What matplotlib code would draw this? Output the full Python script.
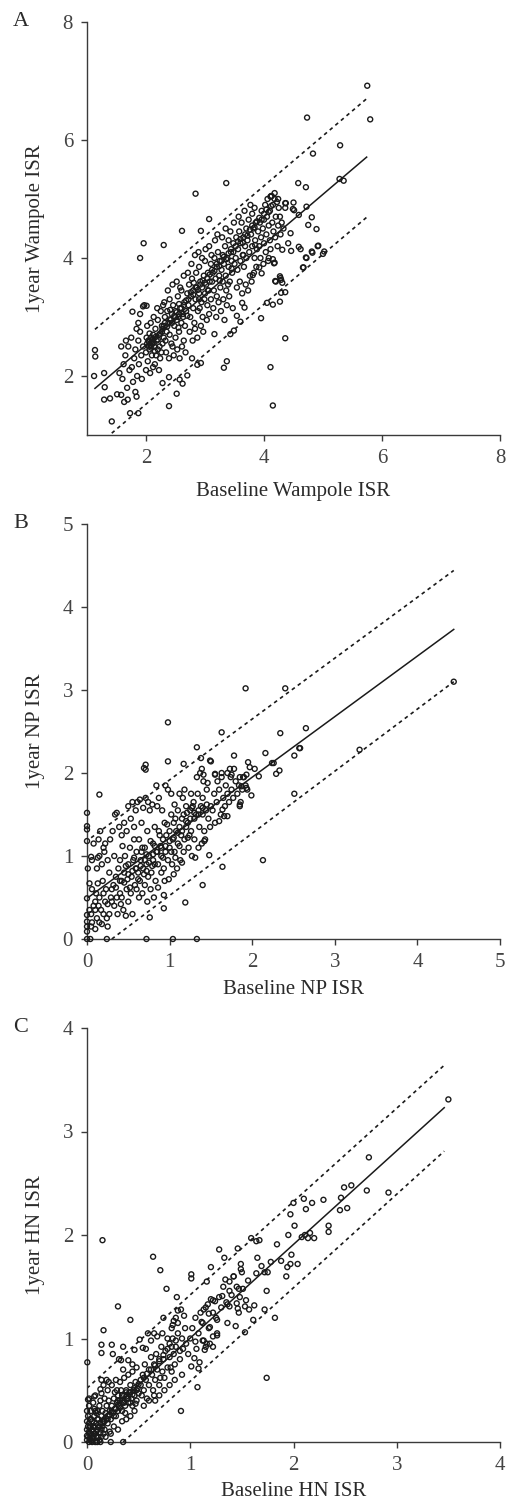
import numpy as np
import matplotlib
matplotlib.use("Agg")
import matplotlib.pyplot as plt

plt.rcParams['font.family'] = ['Liberation Serif', 'DejaVu Serif']

# ---- panel A: Wampole ISR (baseline, 1 year) ----
a_outliers = [(5.75, 6.92), (4.73, 6.38), (5.80, 6.35), (5.29, 5.91), (4.83, 5.77), (3.36, 5.27),
              (5.28, 5.34), (5.35, 5.31), (4.58, 5.27), (4.71, 5.20), (2.84, 5.09), (4.18, 5.10),
              (4.13, 5.05), (4.36, 4.93), (4.50, 4.94), (4.36, 4.85), (4.49, 4.83), (4.72, 4.87),
              (4.59, 4.73), (4.81, 4.69), (4.75, 4.56), (4.89, 4.49), (3.07, 4.66), (2.61, 4.46),
              (1.96, 4.25), (2.30, 4.22), (2.93, 4.46), (4.91, 4.20), (4.59, 4.19), (1.90, 4.00),
              (1.135, 2.44), (1.14, 2.33), (1.12, 2.00), (1.29, 2.05), (1.30, 1.81), (1.29, 1.60),
              (1.39, 1.62), (1.42, 1.23), (1.73, 1.37), (1.87, 1.37), (1.51, 1.69), (1.58, 1.68),
              (1.63, 1.56), (1.69, 1.60), (1.84, 1.65), (1.82, 1.73), (2.39, 1.49), (2.52, 1.70),
              (2.62, 1.87), (2.57, 1.94), (2.28, 1.88), (2.39, 1.98), (2.70, 2.01), (3.32, 2.14),
              (3.37, 2.25), (2.78, 2.30), (2.87, 2.19), (2.93, 2.22), (4.11, 2.15), (4.15, 1.50),
              (4.36, 2.64), (3.95, 2.98), (4.05, 3.24), (4.15, 3.21), (4.27, 3.26), (4.29, 3.41),
              (4.36, 3.42), (4.19, 3.61), (4.28, 3.66), (4.31, 3.58), (4.67, 3.84), (4.72, 4.00),
              (4.82, 4.09), (5.00, 4.07), (4.17, 3.91), (4.08, 4.00), (3.67, 3.16), (3.63, 3.24),
              (3.54, 3.02), (3.60, 2.92), (3.49, 2.77), (3.43, 2.71), (3.16, 2.71), (1.87, 2.90),
              (1.77, 3.09), (1.95, 3.18), (2.01, 3.19), (4.11, 5.04), (4.24, 5.00), (4.37, 4.93),
              (4.51, 4.81), (4.45, 4.42), (4.41, 4.25), (4.31, 4.14), (4.46, 4.12), (4.62, 4.15),
              (4.81, 4.11), (4.92, 4.21), (5.02, 4.11), (4.71, 4.01), (4.66, 3.84), (4.15, 3.98),
              (4.18, 3.92), (4.27, 3.69), (4.29, 3.63), (4.20, 3.60), (3.92, 3.84), (3.96, 3.74),
              (3.81, 3.71)]
a_low = [(1.55, 2.05), (1.60, 1.95), (1.62, 2.20), (1.65, 2.35), (1.68, 1.80), (1.70, 2.50),
         (1.72, 2.10), (1.75, 2.65), (1.78, 1.90), (1.80, 2.30), (1.82, 2.45), (1.85, 2.00),
         (1.87, 2.60), (1.88, 2.20), (1.90, 2.75), (1.92, 2.35), (1.93, 1.95), (1.95, 2.50),
         (1.58, 2.50), (1.66, 2.60), (1.76, 2.15), (1.84, 2.80), (1.90, 3.05), (1.97, 3.20),
         (2.00, 2.40), (2.02, 2.55), (2.04, 2.60), (2.05, 2.50), (2.06, 2.45), (2.08, 2.65),
         (2.10, 2.55), (2.10, 2.35), (2.12, 2.70), (2.14, 2.50), (2.15, 2.20), (2.16, 2.80),
         (2.18, 2.60), (2.20, 2.45), (2.20, 2.95), (2.22, 2.70), (2.24, 2.30), (2.25, 3.10),
         (2.27, 2.85), (2.28, 2.55), (2.30, 2.65), (2.00, 2.10), (2.03, 2.25), (2.07, 2.05),
         (2.12, 2.15), (2.17, 2.35), (2.22, 2.10), (2.26, 2.40), (2.29, 3.20), (2.02, 2.85),
         (2.08, 2.90), (2.13, 3.00), (2.19, 3.15), (2.23, 2.50), (2.06, 2.72), (2.11, 2.62),
         (2.15, 2.42), (2.01, 2.65), (2.09, 2.48), (2.27, 2.75)]
a_mid = [(2.30, 2.85), (2.32, 3.00), (2.33, 2.60), (2.35, 2.75), (2.36, 3.10), (2.38, 2.90),
         (2.40, 2.70), (2.40, 3.30), (2.42, 2.95), (2.44, 3.05), (2.45, 2.50), (2.46, 3.20),
         (2.48, 2.85), (2.50, 3.10), (2.50, 2.65), (2.52, 2.95), (2.54, 3.35), (2.55, 3.00),
         (2.56, 2.75), (2.58, 3.15), (2.60, 2.90), (2.60, 3.45), (2.62, 3.05), (2.64, 2.60),
         (2.65, 3.25), (2.66, 2.85), (2.68, 3.10), (2.70, 3.40), (2.34, 2.40), (2.39, 2.30),
         (2.43, 2.55), (2.47, 2.35), (2.53, 2.45), (2.57, 2.30), (2.61, 2.50), (2.67, 2.40),
         (2.37, 3.45), (2.45, 3.55), (2.52, 3.60), (2.58, 3.50), (2.64, 3.70), (2.31, 3.25),
         (2.49, 3.00), (2.41, 3.12), (2.56, 3.22), (2.63, 3.00),
         (2.72, 3.20), (2.73, 3.55), (2.75, 3.00), (2.76, 3.35), (2.78, 3.65), (2.80, 3.15),
         (2.80, 3.45), (2.82, 2.90), (2.84, 3.30), (2.85, 3.75), (2.86, 3.50), (2.88, 3.10),
         (2.90, 3.40), (2.90, 3.85), (2.92, 3.60), (2.94, 3.25), (2.95, 3.50), (2.96, 3.00),
         (2.98, 3.70), (3.00, 3.40), (3.00, 3.95), (3.02, 3.55), (3.04, 3.20), (3.05, 3.75),
         (3.06, 3.45), (3.08, 3.60), (3.10, 3.30), (3.10, 3.90), (2.74, 2.75), (2.79, 2.60),
         (2.83, 2.80), (2.87, 2.65), (2.93, 2.85), (2.97, 2.75), (3.03, 2.95), (3.07, 3.05),
         (2.77, 3.90), (2.83, 4.05), (2.89, 4.10), (2.95, 4.00), (3.01, 4.15), (3.07, 4.20),
         (2.71, 3.75), (2.91, 3.15), (2.99, 3.30), (2.81, 3.58)]
a_high = [(3.12, 3.60), (3.13, 3.75), (3.15, 3.45), (3.16, 4.00), (3.18, 3.65), (3.20, 3.85),
          (3.20, 3.35), (3.22, 4.10), (3.24, 3.70), (3.25, 3.95), (3.26, 3.50), (3.28, 3.80),
          (3.30, 4.05), (3.30, 3.60), (3.32, 3.90), (3.34, 4.20), (3.35, 3.70), (3.36, 3.45),
          (3.38, 4.00), (3.40, 3.85), (3.40, 4.30), (3.42, 3.60), (3.44, 4.10), (3.45, 3.95),
          (3.46, 3.75), (3.48, 4.25), (3.50, 3.90), (3.14, 3.15), (3.19, 3.00), (3.23, 3.25),
          (3.27, 3.10), (3.31, 3.30), (3.33, 2.95), (3.37, 3.20), (3.41, 3.35), (3.47, 3.15),
          (3.17, 4.30), (3.21, 4.40), (3.29, 4.35), (3.35, 4.50), (3.43, 4.45), (3.49, 4.60),
          (3.11, 4.05), (3.39, 3.55),
          (3.52, 4.00), (3.53, 4.35), (3.55, 3.80), (3.56, 4.15), (3.58, 4.45), (3.60, 3.95),
          (3.60, 4.25), (3.62, 4.60), (3.64, 4.05), (3.65, 4.35), (3.66, 3.85), (3.68, 4.20),
          (3.70, 4.50), (3.70, 4.00), (3.72, 4.30), (3.74, 4.65), (3.75, 4.10), (3.76, 3.70),
          (3.78, 4.40), (3.80, 4.20), (3.80, 4.75), (3.82, 4.50), (3.84, 4.00), (3.85, 4.30),
          (3.86, 4.60), (3.88, 4.15), (3.90, 4.45), (3.54, 3.50), (3.59, 3.60), (3.63, 3.40),
          (3.69, 3.55), (3.73, 3.45), (3.79, 3.60), (3.83, 3.75), (3.87, 3.85), (3.57, 4.70),
          (3.67, 4.80), (3.77, 4.90), (3.84, 4.85),
          (3.92, 4.20), (3.93, 4.60), (3.95, 4.35), (3.96, 4.80), (3.98, 4.50), (4.00, 4.65),
          (4.00, 4.25), (4.02, 4.90), (4.04, 4.40), (4.05, 4.70), (4.06, 5.00), (4.08, 4.55),
          (4.10, 4.80), (4.10, 4.30), (4.12, 5.05), (4.14, 4.60), (4.15, 4.90), (4.16, 4.45),
          (4.18, 5.00), (4.20, 4.70), (4.22, 4.95), (4.24, 4.55), (4.25, 4.85), (4.27, 4.70),
          (4.30, 4.60), (3.94, 4.00), (3.99, 3.90), (4.03, 4.10), (4.07, 3.95), (4.11, 4.15),
          (4.19, 4.35), (4.23, 4.20), (4.28, 4.40), (4.33, 4.50)]
a_core = [(2.05, 2.58), (2.08, 2.52), (2.10, 2.60), (2.13, 2.56), (2.16, 2.66), (2.20, 2.62),
          (2.24, 2.72), (2.28, 2.80), (2.32, 2.90), (2.36, 2.84), (2.40, 2.96), (2.44, 2.90),
          (2.48, 3.02), (2.52, 3.08), (2.56, 3.05), (2.60, 3.15), (2.64, 3.20), (2.68, 3.28),
          (2.72, 3.30), (2.76, 3.42), (2.80, 3.38), (2.84, 3.50), (2.88, 3.46), (2.92, 3.55),
          (2.96, 3.62), (3.00, 3.58), (3.04, 3.66), (3.08, 3.72), (3.12, 3.80), (3.16, 3.78),
          (3.20, 3.90), (3.24, 3.86), (3.28, 3.95), (3.32, 4.02), (3.36, 3.98), (3.40, 4.08),
          (3.44, 4.15), (3.48, 4.10), (3.52, 4.20), (3.56, 4.28), (3.60, 4.32), (3.64, 4.26),
          (3.68, 4.40), (3.72, 4.38), (3.76, 4.48), (3.80, 4.55), (3.84, 4.52), (3.88, 4.62),
          (3.92, 4.68), (3.96, 4.65), (4.00, 4.75), (4.04, 4.82), (4.08, 4.78), (4.12, 4.88),
          (2.90, 3.30), (3.05, 3.45), (3.25, 3.62), (3.45, 3.82), (3.65, 4.05), (3.85, 4.22),
          (2.70, 3.02), (2.55, 2.82)]
a_fit_x = [1.135, 5.74]
a_fit_y = [1.79, 5.71]
a_upper_y = [2.79, 6.70]
a_lower_y = [0.79, 4.69]

# ---- panel B: NP ISR ----
b_outliers = [(0.98, 2.61), (1.92, 3.02), (2.40, 3.02), (1.63, 2.49), (2.34, 2.48), (2.65, 2.54),
              (4.44, 3.10), (2.57, 2.30), (2.51, 2.21), (2.16, 2.24), (1.78, 2.21), (3.30, 2.28),
              (2.24, 2.12), (2.33, 2.03), (2.29, 1.99), (2.08, 1.96), (1.95, 2.13), (1.97, 2.07),
              (2.03, 2.05), (2.51, 1.75), (2.13, 0.95), (1.73, 2.05), (1.75, 1.98), (1.63, 2.00),
              (1.85, 1.95), (1.89, 1.95), (1.93, 1.98), (1.87, 1.84), (1.93, 1.82), (1.99, 1.73),
              (1.85, 1.62), (1.49, 2.15), (1.39, 2.05), (1.41, 1.98), (1.55, 1.99), (1.70, 1.48),
              (1.48, 1.01), (1.64, 0.87), (1.42, 1.18), (1.33, 2.31), (2.58, 2.30), (1.38, 2.18),
              (1.50, 2.14), (0.98, 2.14), (0.71, 2.10), (0.71, 2.04), (0.69, 2.06), (1.17, 2.11),
              (2.26, 2.12), (1.40, 0.65), (1.19, 0.44), (0.93, 0.53), (0.76, 0.26), (0.93, 0.37),
              (0.15, 1.74), (0.01, 0.85), (0.03, 0.67), (0.13, 0.67), (0.72, 0.0), (1.04, 0.0),
              (1.33, 0.0), (0.24, 0.0), (0.0, 0.0), (0.04, 0.0), (0.0, 1.52), (0.0, 1.36),
              (0.0, 1.32), (0.0, 1.18), (0.0, 0.49), (0.0, 0.29), (0.0, 0.21), (0.0, 0.15),
              (0.0, 0.09), (0.05, 0.99), (0.06, 0.95)]
b_low = [(0.05, 0.30), (0.08, 0.40), (0.10, 0.35), (0.12, 0.25), (0.14, 0.40), (0.15, 0.20),
         (0.17, 0.35), (0.20, 0.30), (0.22, 0.45), (0.25, 0.15), (0.27, 0.30), (0.05, 0.15),
         (0.10, 0.12), (0.18, 0.18), (0.24, 0.25), (0.06, 0.60), (0.12, 0.85), (0.15, 1.00),
         (0.18, 0.90), (0.20, 1.10), (0.22, 1.15), (0.25, 0.95), (0.28, 1.20), (0.08, 1.15),
         (0.14, 1.20), (0.27, 0.80), (0.11, 0.55), (0.19, 0.70), (0.23, 0.60), (0.29, 0.50),
         (0.16, 1.30), (0.21, 1.05), (0.13, 0.98),
         (0.30, 0.45), (0.32, 0.65), (0.33, 0.40), (0.35, 0.75), (0.36, 0.50), (0.38, 0.85),
         (0.40, 0.55), (0.40, 0.95), (0.42, 0.70), (0.44, 0.35), (0.45, 0.80), (0.46, 1.00),
         (0.48, 0.60), (0.50, 0.90), (0.50, 0.45), (0.52, 1.10), (0.54, 0.75), (0.55, 0.30),
         (0.56, 0.95), (0.58, 0.65), (0.60, 1.05), (0.31, 1.30), (0.34, 1.50), (0.36, 1.52),
         (0.39, 1.35), (0.42, 1.25), (0.45, 1.40), (0.48, 1.30), (0.50, 1.60), (0.53, 1.45),
         (0.55, 1.65), (0.57, 1.35), (0.59, 1.55), (0.37, 0.30), (0.41, 0.42), (0.47, 0.28),
         (0.53, 0.55), (0.59, 0.85), (0.33, 1.00), (0.43, 1.12), (0.57, 1.20), (0.49, 0.72)]
b_mid = [(0.60, 0.60), (0.62, 0.80), (0.63, 1.20), (0.64, 0.70), (0.65, 0.95), (0.66, 1.40),
         (0.68, 0.85), (0.70, 1.10), (0.70, 0.65), (0.72, 0.90), (0.73, 1.30), (0.74, 0.75),
         (0.75, 1.00), (0.76, 1.55), (0.78, 0.80), (0.80, 1.15), (0.80, 0.95), (0.82, 1.35),
         (0.83, 0.70), (0.84, 1.05), (0.85, 1.60), (0.86, 0.90), (0.88, 1.25), (0.90, 1.00),
         (0.90, 0.80), (0.61, 1.65), (0.64, 1.68), (0.68, 1.58), (0.71, 1.70), (0.74, 1.65),
         (0.79, 1.62), (0.84, 1.85), (0.87, 1.70), (0.63, 0.50), (0.67, 0.55), (0.73, 0.45),
         (0.77, 0.60), (0.81, 0.50), (0.86, 0.62), (0.69, 0.78), (0.79, 0.88), (0.89, 1.12),
         (0.72, 1.02), (0.82, 1.12), (0.66, 1.05),
         (0.92, 1.20), (0.93, 0.85), (0.94, 1.40), (0.95, 1.05), (0.96, 1.25), (0.98, 0.95),
         (1.00, 1.30), (1.00, 1.10), (1.02, 1.50), (1.03, 0.90), (1.04, 1.20), (1.05, 1.40),
         (1.06, 1.05), (1.08, 1.30), (1.10, 1.55), (1.10, 1.15), (1.12, 1.35), (1.13, 0.95),
         (1.14, 1.25), (1.15, 1.45), (1.16, 1.70), (1.18, 1.20), (1.20, 1.35), (1.20, 1.60),
         (0.95, 1.85), (0.98, 1.80), (1.02, 1.75), (1.06, 1.62), (1.12, 1.75), (1.18, 1.80),
         (0.94, 0.70), (0.99, 0.72), (1.05, 0.78), (1.09, 0.85), (1.15, 0.92), (0.91, 1.55),
         (1.07, 0.98), (1.17, 1.05)]
b_high = [(1.22, 1.40), (1.24, 1.25), (1.25, 1.55), (1.26, 1.30), (1.28, 1.60), (1.30, 1.45),
          (1.30, 1.20), (1.32, 1.50), (1.34, 1.75), (1.35, 1.55), (1.36, 1.35), (1.38, 1.60),
          (1.40, 1.50), (1.40, 1.70), (1.42, 1.30), (1.44, 1.55), (1.45, 1.80), (1.47, 1.45),
          (1.50, 1.60), (1.23, 1.10), (1.27, 1.00), (1.31, 0.98), (1.35, 1.10), (1.39, 1.15),
          (1.43, 1.20), (1.49, 1.35), (1.26, 1.75), (1.33, 1.95), (1.37, 2.00), (1.41, 1.90),
          (1.46, 1.88), (1.29, 1.65), (1.21, 1.52),
          (1.52, 1.55), (1.54, 1.75), (1.55, 1.40), (1.57, 1.65), (1.60, 1.80), (1.62, 1.50),
          (1.63, 1.95), (1.65, 1.70), (1.67, 1.60), (1.68, 1.85), (1.70, 1.75), (1.72, 1.65),
          (1.74, 1.95), (1.75, 1.80), (1.77, 1.70), (1.80, 1.90), (1.82, 1.75), (1.84, 1.85),
          (1.86, 1.65), (1.88, 1.80), (1.90, 1.95), (1.92, 1.85), (1.94, 1.80), (1.55, 1.98),
          (1.60, 1.42), (1.66, 1.48), (1.70, 2.00), (1.78, 2.05), (1.85, 1.60), (1.58, 1.90),
          (1.64, 1.56)]
b_core = [(0.30, 0.60), (0.35, 0.62), (0.40, 0.70), (0.45, 0.68), (0.50, 0.78), (0.55, 0.82),
          (0.60, 0.85), (0.65, 0.88), (0.70, 0.95), (0.75, 0.92), (0.80, 1.02), (0.85, 1.05),
          (0.90, 1.10), (0.95, 1.12), (1.00, 1.18), (1.05, 1.22), (1.10, 1.28), (1.15, 1.30),
          (1.20, 1.42), (1.25, 1.45), (1.30, 1.52), (1.35, 1.50), (1.40, 1.58), (1.45, 1.62),
          (0.42, 0.50), (0.52, 0.62), (0.62, 0.72), (0.72, 0.82), (0.82, 0.90), (0.92, 0.98),
          (1.02, 1.05), (1.12, 1.12), (1.22, 1.22), (0.47, 0.88), (0.57, 0.98), (0.67, 1.10),
          (0.77, 1.18), (0.87, 1.30), (0.97, 1.38), (1.07, 1.45), (1.17, 1.50), (1.27, 1.58),
          (0.10, 0.45), (0.15, 0.50), (0.20, 0.55), (0.25, 0.42), (0.06, 0.20), (0.03, 0.35)]
b_fit_x = [0.0, 4.44]
b_fit_y = [0.49, 3.73]
b_upper_x = [0.05, 4.44]
b_upper_y = [1.22, 4.44]
b_lower_x = [0.30, 4.44]
b_lower_y = [0.0, 3.10]

# ---- panel C: HN ISR ----
c_outliers = [(3.50, 3.31), (2.73, 2.75), (2.49, 2.46), (2.56, 2.48), (2.71, 2.43), (2.92, 2.41),
              (2.46, 2.36), (2.45, 2.24), (2.52, 2.26), (2.29, 2.34), (2.10, 2.35), (2.18, 2.31),
              (2.00, 2.31), (1.97, 2.20), (2.12, 2.25), (2.01, 2.09), (2.34, 2.09), (2.34, 2.03),
              (1.95, 2.00), (2.08, 1.98), (2.11, 2.00), (2.16, 2.02), (2.20, 1.97), (2.14, 1.97),
              (1.59, 1.97), (1.64, 1.94), (1.67, 1.95), (1.84, 1.91), (0.15, 1.95), (1.46, 1.87),
              (1.98, 1.81), (2.04, 1.72), (1.97, 1.72), (1.94, 1.69), (1.93, 1.60), (1.88, 1.75),
              (1.78, 1.74), (1.74, 1.46), (1.65, 1.78), (1.69, 1.70), (1.72, 1.64), (1.75, 1.64),
              (1.64, 1.63), (1.49, 1.72), (1.49, 1.67), (1.50, 1.64), (1.42, 1.60), (1.56, 1.56),
              (1.33, 1.78), (1.28, 1.86), (1.20, 1.69), (1.34, 1.57), (1.38, 1.46), (1.47, 1.48),
              (1.51, 1.48), (1.16, 1.55), (1.31, 1.41), (1.22, 1.37), (1.24, 1.36), (1.17, 1.33),
              (1.13, 1.28), (1.18, 1.24), (1.36, 1.33), (1.38, 1.31), (1.45, 1.34), (1.54, 1.37),
              (1.53, 1.31), (1.46, 1.29), (1.47, 1.25), (1.57, 1.28), (1.62, 1.32), (1.72, 1.28),
              (1.61, 1.18), (1.82, 1.20), (1.53, 1.06), (1.44, 1.12), (1.26, 1.18), (1.11, 1.16),
              (1.19, 1.11), (1.22, 1.02), (1.19, 0.95), (1.22, 0.92), (1.13, 0.98), (1.26, 1.03),
              (0.64, 1.79), (0.71, 1.66), (0.77, 1.48), (0.30, 1.31), (0.42, 1.18), (0.16, 1.08),
              (0.003, 0.77), (0.14, 0.94), (0.14, 0.86), (0.24, 0.94), (0.25, 0.85), (0.35, 0.92),
              (0.31, 0.80), (0.91, 0.30), (1.07, 0.53), (1.74, 0.62), (1.01, 1.62), (1.01, 1.58),
              (0.87, 1.40), (0.91, 1.28), (0.88, 1.27), (0.74, 1.20), (0.86, 1.20), (0.84, 1.17),
              (0.83, 1.13), (0.59, 1.05), (0.65, 1.05), (0.51, 0.99), (0.54, 0.91), (0.46, 0.89),
              (0.40, 0.79), (0.44, 0.75), (0.33, 0.79), (0.35, 0.70), (0.14, 0.60), (0.21, 0.58),
              (0.13, 0.51), (0.14, 0.47), (0.07, 0.44), (0.01, 0.41), (0.29, 0.50), (1.08, 0.71),
              (1.09, 0.77), (1.04, 0.81), (1.01, 0.73), (1.14, 0.89), (1.15, 0.92), (1.12, 0.98),
              (1.05, 0.97), (0.13, 0.0), (0.23, 0.0), (0.35, 0.0)]
c_low = [(0.00, 0.02), (0.01, 0.05), (0.02, 0.00), (0.02, 0.10), (0.03, 0.03), (0.03, 0.15),
         (0.04, 0.07), (0.05, 0.00), (0.05, 0.20), (0.06, 0.10), (0.06, 0.04), (0.07, 0.15),
         (0.07, 0.25), (0.08, 0.08), (0.08, 0.00), (0.09, 0.18), (0.10, 0.12), (0.10, 0.30),
         (0.11, 0.05), (0.11, 0.22), (0.12, 0.15), (0.12, 0.35), (0.13, 0.09), (0.14, 0.25),
         (0.15, 0.18), (0.00, 0.12), (0.00, 0.20), (0.00, 0.30), (0.01, 0.25), (0.02, 0.35),
         (0.04, 0.30), (0.06, 0.38), (0.09, 0.28), (0.13, 0.40), (0.00, 0.06), (0.01, 0.15),
         (0.03, 0.22), (0.05, 0.12), (0.04, 0.01), (0.10, 0.00), (0.07, 0.32), (0.15, 0.30),
         (0.14, 0.05), (0.02, 0.42), (0.08, 0.45),
         (0.16, 0.20), (0.17, 0.12), (0.18, 0.28), (0.19, 0.35), (0.20, 0.18), (0.20, 0.25),
         (0.21, 0.40), (0.22, 0.30), (0.23, 0.22), (0.24, 0.35), (0.25, 0.28), (0.26, 0.42),
         (0.27, 0.32), (0.28, 0.25), (0.29, 0.38), (0.30, 0.45), (0.30, 0.30), (0.31, 0.35),
         (0.32, 0.40), (0.33, 0.50), (0.34, 0.30), (0.35, 0.38), (0.36, 0.45), (0.37, 0.35),
         (0.38, 0.50), (0.39, 0.42), (0.40, 0.38), (0.41, 0.48), (0.42, 0.55), (0.43, 0.42),
         (0.44, 0.35), (0.45, 0.50), (0.46, 0.45), (0.47, 0.58), (0.48, 0.40), (0.49, 0.52),
         (0.50, 0.47), (0.18, 0.05), (0.22, 0.10), (0.26, 0.15), (0.30, 0.12), (0.34, 0.20),
         (0.38, 0.22), (0.42, 0.25), (0.46, 0.30), (0.20, 0.50), (0.24, 0.55), (0.28, 0.60),
         (0.32, 0.58), (0.36, 0.62), (0.40, 0.65), (0.44, 0.68), (0.48, 0.72), (0.17, 0.42),
         (0.27, 0.48), (0.37, 0.28), (0.47, 0.37), (0.23, 0.08), (0.16, 0.55), (0.19, 0.60)]
c_mid = [(0.52, 0.55), (0.53, 0.45), (0.54, 0.65), (0.55, 0.50), (0.56, 0.75), (0.57, 0.60),
         (0.58, 0.42), (0.60, 0.70), (0.60, 0.55), (0.62, 0.82), (0.63, 0.65), (0.64, 0.50),
         (0.65, 0.75), (0.66, 0.60), (0.67, 0.85), (0.68, 0.70), (0.70, 0.78), (0.70, 0.55),
         (0.72, 0.92), (0.73, 0.68), (0.74, 0.80), (0.75, 0.62), (0.76, 0.88), (0.78, 0.72),
         (0.80, 0.95), (0.80, 0.82), (0.82, 0.68), (0.83, 1.00), (0.84, 0.85), (0.85, 0.75),
         (0.86, 0.92), (0.88, 1.05), (0.90, 0.88), (0.90, 0.80), (0.92, 1.00), (0.93, 0.90),
         (0.95, 1.10), (0.96, 0.95), (0.98, 0.85), (1.00, 1.00), (0.55, 0.35), (0.60, 0.40),
         (0.65, 0.45), (0.70, 0.45), (0.75, 0.50), (0.80, 0.55), (0.85, 0.60), (0.57, 0.90),
         (0.62, 0.98), (0.68, 1.02), (0.73, 1.05), (0.78, 1.00), (0.82, 1.10), (0.88, 1.15),
         (0.94, 1.22), (0.66, 0.40), (0.92, 0.65), (0.71, 0.62), (0.81, 0.72),
         (1.02, 1.10), (1.05, 1.20), (1.08, 1.05), (1.10, 1.25), (1.12, 1.15), (1.15, 1.30),
         (1.18, 1.10), (1.20, 1.38), (1.22, 1.25), (1.25, 1.20), (1.28, 1.40), (1.30, 1.30),
         (1.32, 1.50), (1.35, 1.35), (1.38, 1.55), (1.40, 1.42), (1.42, 1.60), (1.45, 1.50),
         (1.48, 1.40), (1.06, 0.90), (1.16, 0.95), (1.26, 1.05), (1.36, 1.15)]
c_core = [(0.20, 0.22), (0.22, 0.26), (0.24, 0.30), (0.26, 0.25), (0.28, 0.32), (0.30, 0.36),
          (0.32, 0.33), (0.34, 0.40), (0.36, 0.38), (0.38, 0.44), (0.40, 0.42), (0.42, 0.48),
          (0.44, 0.46), (0.46, 0.52), (0.48, 0.50), (0.50, 0.56), (0.52, 0.60), (0.55, 0.62),
          (0.58, 0.66), (0.62, 0.70), (0.66, 0.74), (0.70, 0.80), (0.74, 0.84), (0.78, 0.90),
          (0.82, 0.92), (0.86, 0.98), (0.30, 0.40), (0.34, 0.45), (0.38, 0.48), (0.42, 0.38),
          (0.05, 0.05), (0.07, 0.08), (0.09, 0.10), (0.11, 0.14), (0.13, 0.18), (0.15, 0.15),
          (0.17, 0.20), (0.19, 0.22), (0.03, 0.08), (0.06, 0.15), (0.09, 0.05), (0.12, 0.02),
          (0.16, 0.08), (0.02, 0.18), (0.04, 0.22), (0.08, 0.30), (0.10, 0.22), (0.14, 0.12)]
c_fit_x = [0.0, 3.46]
c_fit_y = [0.10, 3.23]
c_upper_x = [0.0, 3.46]
c_upper_y = [0.52, 3.64]
c_lower_x = [0.35, 3.46]
c_lower_y = [0.0, 2.81]

ink = '#1a1a1a'
axis_col = '#3a3a3a'

fig = plt.figure(figsize=(5.11, 15.0), dpi=100)
left, width = 87 / 511, 413 / 511

panels = [
    dict(rect=[left, 1 - 435 / 1500, width, 413 / 1500], letter='A', lim=(1, 8), ticks=[2, 4, 6, 8],
         pts=a_outliers + a_low + a_mid + a_high + a_core,
         fit=(a_fit_x, a_fit_y), up=(a_fit_x, a_upper_y), lo=(a_fit_x, a_lower_y),
         xlabel='Baseline Wampole ISR', ylabel='1year Wampole ISR', xlab_y=-0.113),
    dict(rect=[left, 1 - 939 / 1500, width, 415 / 1500], letter='B', lim=(0, 5), ticks=[0, 1, 2, 3, 4, 5],
         pts=b_outliers + b_low + b_mid + b_high + b_core,
         fit=(b_fit_x, b_fit_y), up=(b_upper_x, b_upper_y), lo=(b_lower_x, b_lower_y),
         xlabel='Baseline NP ISR', ylabel='1year NP ISR', xlab_y=-0.098),
    dict(rect=[left, 1 - 1442 / 1500, width, 414 / 1500], letter='C', lim=(0, 4), ticks=[0, 1, 2, 3, 4],
         pts=c_outliers + c_low + c_mid + c_core,
         fit=(c_fit_x, c_fit_y), up=(c_upper_x, c_upper_y), lo=(c_lower_x, c_lower_y),
         xlabel='Baseline HN ISR', ylabel='1year HN ISR', xlab_y=-0.097),
]

for p in panels:
    ax = fig.add_axes(p['rect'])
    xs, ys = zip(*p['pts'])
    ax.scatter(xs, ys, s=13, facecolors='none', edgecolors=ink, linewidths=1.0, clip_on=False, zorder=3)
    ax.plot(p['fit'][0], p['fit'][1], color=ink, lw=1.1, zorder=2)
    ax.plot(p['up'][0], p['up'][1], color=ink, lw=1.2, dashes=(2.2, 2.2), zorder=2)
    ax.plot(p['lo'][0], p['lo'][1], color=ink, lw=1.2, dashes=(2.2, 2.2), zorder=2)

    ax.set_xlim(*p['lim'])
    ax.set_ylim(*p['lim'])
    ax.set_xticks(p['ticks'])
    ax.set_yticks(p['ticks'])
    for side in ['top', 'right']:
        ax.spines[side].set_visible(False)
    for side in ['left', 'bottom']:
        ax.spines[side].set_color(axis_col)
        ax.spines[side].set_linewidth(1.0)
    ax.tick_params(direction='out', length=4, width=1.0, color=axis_col,
                   labelsize=15, labelcolor='#444444', pad=6)
    ax.set_xlabel(p['xlabel'], fontsize=15, color='#2a2a2a')
    ax.set_ylabel(p['ylabel'], fontsize=15, color='#2a2a2a')
    ax.xaxis.set_label_coords(0.5, p['xlab_y'])
    ax.yaxis.set_label_coords(-0.102, 0.5)

    top = p['rect'][1] + p['rect'][3]
    fig.text(13 / 511, top, p['letter'], fontsize=16, color='#2a2a2a', va='center', ha='left')

fig.savefig('out.png', dpi=100)
